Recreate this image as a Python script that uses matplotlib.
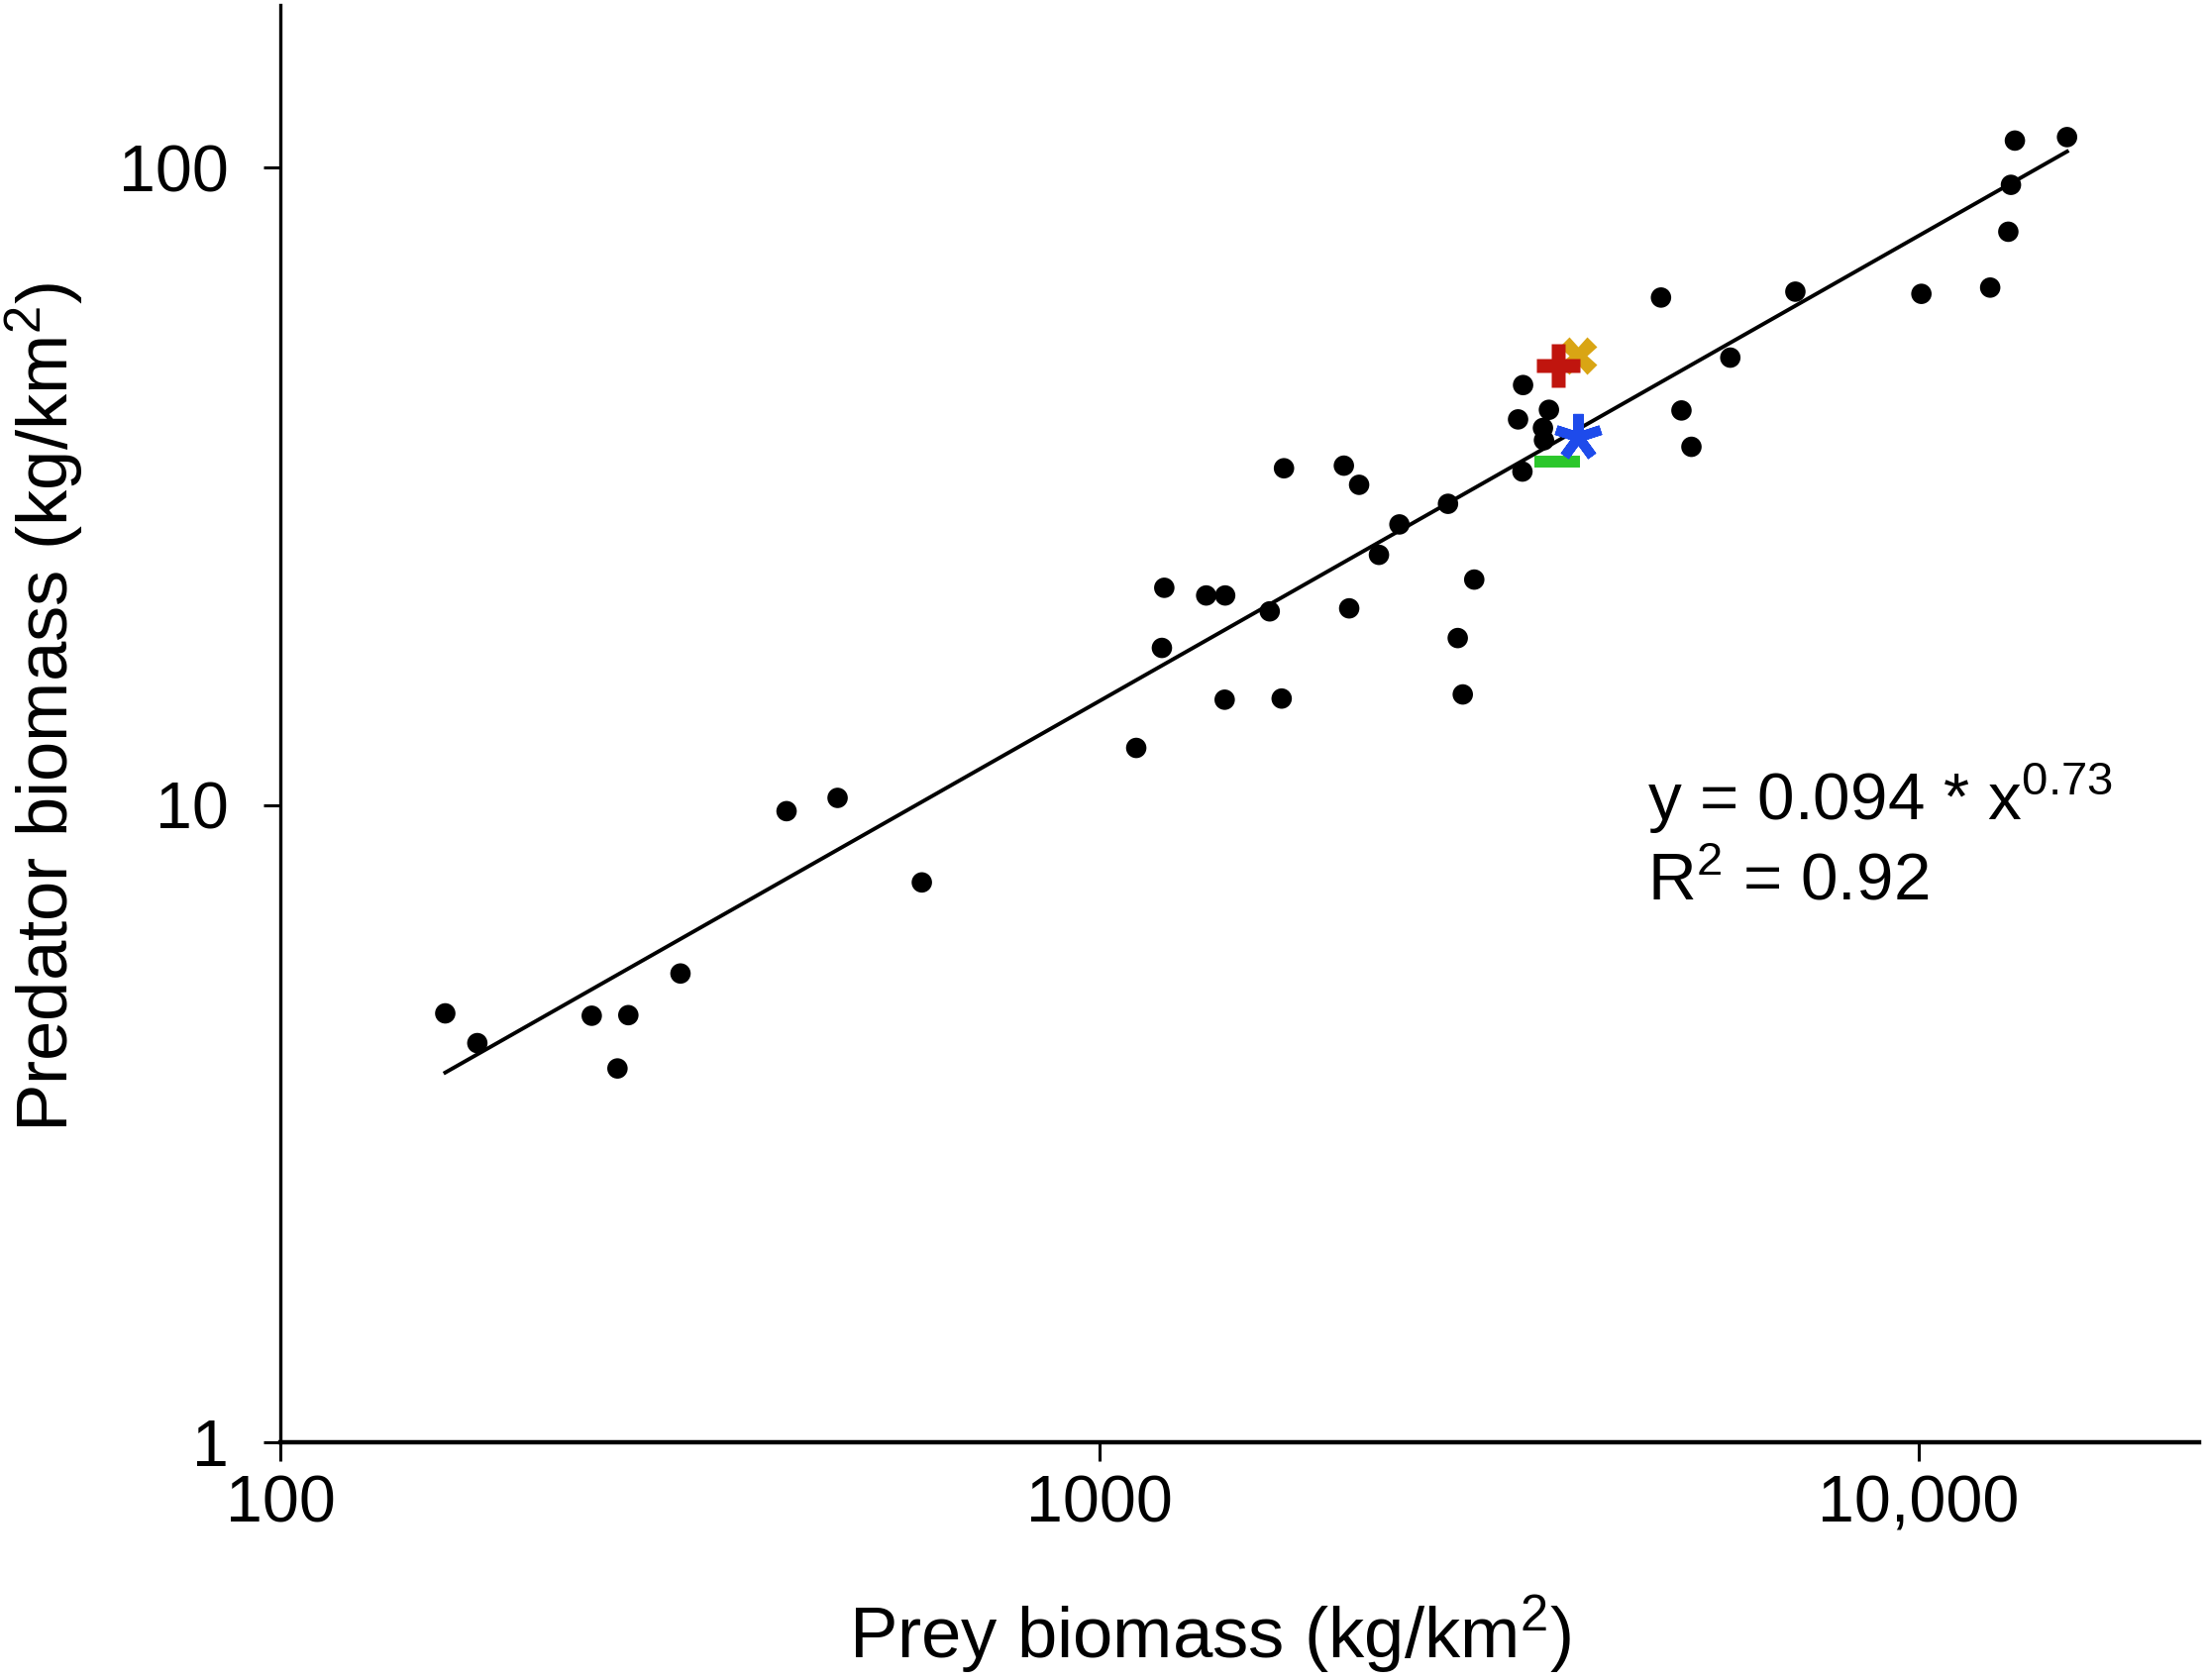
#!/usr/bin/env python3

import matplotlib
matplotlib.use("Agg")
import matplotlib.pyplot as plt
import numpy as np

plt.rcParams['font.family'] = ['Liberation Sans', 'DejaVu Sans']
plt.rcParams['mathtext.default'] = 'regular'

# prey vs predator biomass (kg/km2)
prey = np.array([159, 174, 240, 266, 258, 308, 415, 479, 607,
                 1109, 1192, 1200, 1350, 1424, 1422, 1614, 1669, 1680,
                 1988, 2018, 2075, 2194, 2324, 2664, 2738, 2777, 2868,
                 3244, 3284, 3290, 3479, 3489, 3538, 4848, 5135, 5281,
                 5891, 7073, 10080, 12230, 12870, 12965, 13110, 15180])
predator = np.array([4.71, 4.23, 4.67, 4.68, 3.86, 5.44, 9.78, 10.26, 7.56,
                     12.29, 17.64, 21.92, 21.32, 21.32, 14.63, 20.13, 14.69, 33.76,
                     34.08, 20.35, 31.8, 24.69, 27.56, 29.69, 18.28, 14.91, 22.58,
                     40.28, 33.36, 45.6, 39.05, 37.36, 41.7, 62.56, 41.6, 36.48,
                     50.35, 63.9, 63.4, 64.85, 79.35, 94.0, 110.3, 111.7])

# highlighted sites
gold_x, gold_y = 3834, 50.8
red_x, red_y = 3633, 48.9
blue_x, blue_y = 3841, 37.8
green_x, green_y = 3626, 34.57

fit_a = 0.094
fit_b = 0.73
r2 = 0.92

xticks = [100, 1000, 10000]
xticklabels = ["100", "1000", "10,000"]
yticks = [1, 10, 100]
yticklabels = ["1", "10", "100"]


if __name__ == '__main__':

	fig = plt.figure(figsize=(11.14, 8.48), dpi=200)
	ax = fig.add_axes([0.127, 0.1415, 0.8694, 0.8555])

	xx = np.array([prey.min(), prey.max()])
	ax.plot(xx, fit_a * xx ** fit_b, color='black', lw=1.4, zorder=2)
	ax.scatter(prey, predator, s=55, color='black', edgecolors='none', zorder=3)

	ax.plot(gold_x, gold_y, marker='X', ms=13.5, color='#D9A514', mec='none', zorder=4)
	ax.plot(red_x, red_y, marker='P', ms=16, color='#C0150E', mec='none', zorder=5)
	ax.plot(blue_x, blue_y, marker=(5, 2, 0), ms=17, color='#1E4BEB', mew=3.6, zorder=5)
	ax.plot(green_x, green_y, marker='_', ms=16.5, color='#2BC72B', mew=4.3, zorder=4)

	ax.set_xscale('log')
	ax.set_yscale('log')
	ax.set_xlim(100, 22000)
	ax.set_ylim(1, 180)
	ax.set_xticks(xticks)
	ax.set_xticklabels(xticklabels)
	ax.set_yticks(yticks)
	ax.set_yticklabels(yticklabels)
	ax.minorticks_off()
	ax.tick_params(axis='x', length=6.8, width=1.1, pad=5, labelsize=23.9)
	ax.tick_params(axis='y', length=6.1, width=1.1, pad=12.5, labelsize=23.9)

	for side in ['top', 'right']:
		ax.spines[side].set_visible(False)
	ax.spines['left'].set_linewidth(1.2)
	ax.spines['bottom'].set_linewidth(1.6)

	ax.set_xlabel("Prey biomass (kg/km$^2$)", fontsize=26.1, va='baseline')
	ax.xaxis.set_label_coords(0.4848, -0.1496)
	ax.set_ylabel("Predator biomass (kg/km$^2$)", fontsize=26.1, va='baseline')
	ax.yaxis.set_label_coords(-0.111, 0.5114)

	ax.text(4665, 9.474, "y = %.3f * x$^{%.2f}$" % (fit_a, fit_b), fontsize=24.3, va='baseline')
	ax.text(4665, 7.09, "R$^2$ = %.2f" % r2, fontsize=24.3, va='baseline')

	fig.savefig("out.png", dpi=200)
